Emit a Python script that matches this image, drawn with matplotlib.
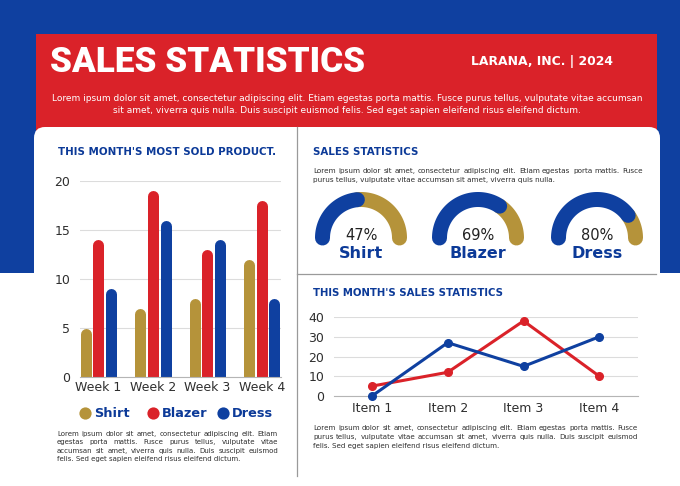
import matplotlib
matplotlib.use('Agg')
import matplotlib.pyplot as plt
import numpy as np
from matplotlib.patches import Rectangle, FancyBboxPatch

W, H = 680, 486
BLUE = '#0F40A0'
RED = '#DA2229'
GOLD = '#B5933A'
NAVY = '#0C3A98'
TXT = '#2E2E2E'
BODY = 'DejaVu Sans'
HEAD = 'DejaVu Sans'

# ---------------- data ----------------
weeks = ['Week 1', 'Week 2', 'Week 3', 'Week 4']
bar_series = ['Shirt', 'Blazer', 'Dress']
shirt = [5, 7, 8, 12]
blazer = [14, 19, 13, 18]
dress = [9, 16, 14, 8]
bar_yticks = [0, 5, 10, 15, 20]

gauge_labels = ['Shirt', 'Blazer', 'Dress']
gauge_pct = [47, 69, 80]

items = ['Item 1', 'Item 2', 'Item 3', 'Item 4']
line_red = [5, 12, 38, 10]
line_blue = [0, 27, 15, 30]
line_yticks = [0, 10, 20, 30, 40]

title = 'SALES STATISTICS'
company = 'LARANA, INC. | 2024'
header_lines = ['Lorem ipsum dolor sit amet, consectetur adipiscing elit. Etiam egestas porta mattis. Fusce purus tellus, vulputate vitae accumsan',
                'sit amet, viverra quis nulla. Duis suscipit euismod felis. Sed eget sapien eleifend risus eleifend dictum.']
left_title = "THIS MONTH'S MOST SOLD PRODUCT."
left_para = ['Lorem ipsum dolor sit amet, consectetur adipiscing elit. Etiam',
             'egestas porta mattis. Fusce purus tellus, vulputate vitae',
             'accumsan sit amet, viverra quis nulla. Duis suscipit euismod',
             'felis. Sed eget sapien eleifend risus eleifend dictum.']
gauge_title = 'SALES STATISTICS'
gauge_para = ['Lorem ipsum dolor sit amet, consectetur adipiscing elit. Etiam egestas porta mattis. Fusce',
              'purus tellus, vulputate vitae accumsan sit amet, viverra quis nulla.']
line_title = "THIS MONTH'S SALES STATISTICS"
line_para = ['Lorem ipsum dolor sit amet, consectetur adipiscing elit. Etiam egestas porta mattis. Fusce',
             'purus tellus, vulputate vitae accumsan sit amet, viverra quis nulla. Duis suscipit euismod',
             'felis. Sed eget sapien eleifend risus eleifend dictum.']

# ---------------- figure ----------------
fig = plt.figure(figsize=(6.8, 4.86), dpi=100)
bg = fig.add_axes([0, 0, 1, 1], zorder=0)
bg.set_xlim(0, W)
bg.set_ylim(H, 0)
bg.axis('off')
R = fig.canvas.get_renderer()


def px_axes(x0, y0, x1, y1):
    ax = fig.add_axes([x0 / W, 1 - y1 / H, (x1 - x0) / W, (y1 - y0) / H], zorder=2)
    ax.patch.set_visible(False)
    return ax


def fit_text(x, y, s, width, size, **kw):
    t = bg.text(x, y, s, fontsize=size, **kw)
    w = t.get_window_extent(R).width
    t.set_fontsize(size * width / w)
    return t


def justified(x0, x1, y, lines, lh, color=TXT):
    # font size so that the longest line fits the width naturally
    probe = [bg.text(0, 0, ln, fontsize=6, family=BODY) for ln in lines]
    wmax = max(p.get_window_extent(R).width for p in probe)
    for p in probe:
        p.remove()
    size = 6 * (x1 - x0) / wmax
    for i, line in enumerate(lines):
        yy = y + i * lh
        words = line.split()
        if i == len(lines) - 1:
            bg.text(x0, yy, line, fontsize=size, color=color, family=BODY, va='center')
            continue
        ts = [bg.text(0, yy, w, fontsize=size, color=color, family=BODY, va='center') for w in words]
        ws = [t.get_window_extent(R).width for t in ts]
        gap = (x1 - x0 - sum(ws)) / max(len(words) - 1, 1)
        xx = x0
        for t, w in zip(ts, ws):
            t.set_x(xx)
            xx += w + gap


# backgrounds
bg.add_patch(Rectangle((0, 0), W, 273, color=BLUE, lw=0))
bg.add_patch(Rectangle((36, 34), 621, 100, color=RED, lw=0))
bg.add_patch(FancyBboxPatch((34, 127), 626, 420, boxstyle='round,pad=0,rounding_size=11',
                            fc='white', ec='none'))
bg.plot([297, 297], [127, 476], color='#9A9A9A', lw=0.9)
bg.plot([297, 656], [273.5, 273.5], color='#9A9A9A', lw=0.9)

# header
fit_text(50, 63, title, 315, 26, color='white', family=['Roboto', 'DejaVu Sans'],
         weight='black', va='center')
fit_text(471, 62, company, 143, 10, color='white', family=HEAD, weight='bold', va='center')
for i, ln in enumerate(header_lines):
    t = bg.text(347, 98 + i * 12, ln, fontsize=6.5, color='white', family=BODY, ha='center', va='center')
    if i == 0:
        base_w = t.get_window_extent(R).width
        hs = 6.5 * 585 / base_w
    t.set_fontsize(hs)

# section titles
fit_text(58, 152, left_title, 217, 8, color=NAVY, family=HEAD, weight='bold', va='center')
fit_text(313, 152, gauge_title, 105, 8, color=NAVY, family=HEAD, weight='bold', va='center')
fit_text(313, 293, line_title, 190, 8, color=NAVY, family=HEAD, weight='bold', va='center')

# paragraphs
justified(57, 278, 434, left_para, 8.3)
justified(313, 643, 171, gauge_para, 8.8)
justified(313, 638, 428, line_para, 8.8)

# ---------------- bar chart ----------------
axb = px_axes(80, 181, 281, 377)
xg = np.arange(len(weeks))
off = 0.235
bar_px = 11.0
r_data = (bar_px / 2) / (196 / 20)
for k, (vals, col) in enumerate(zip([shirt, blazer, dress], [GOLD, RED, BLUE])):
    xs = xg + (k - 1) * off
    v = np.array(vals, dtype=float)
    lc = axb.vlines(xs, 0, v - r_data, colors=col, lw=bar_px * 0.72, zorder=3)
    lc.set_capstyle('round')
axb.set_xlim(-0.34, 3.355)
axb.set_ylim(0, 20)
axb.set_yticks(bar_yticks)
axb.set_xticks(xg)
axb.set_xticklabels(weeks)
axb.grid(axis='y', color='#DCDCDC', lw=0.8, zorder=0)
for s in ['left', 'top', 'right']:
    axb.spines[s].set_visible(False)
axb.spines['bottom'].set_color('#B5B5B5')
axb.spines['bottom'].set_zorder(4)
axb.tick_params(axis='y', length=0, pad=7, labelsize=9, labelcolor=TXT)
axb.tick_params(axis='x', length=0, pad=3, labelsize=9, labelcolor=TXT)
for t in axb.get_xticklabels() + axb.get_yticklabels():
    t.set_family(BODY)

# legend
leg_x = [85, 153, 223]
for name, col, lx in zip(bar_series, [GOLD, RED, BLUE], leg_x):
    bg.plot(lx, 413, 'o', ms=8.8, color=col, mec='none')
    bg.text(lx + 9, 413, name, fontsize=9.3, color=NAVY, weight='bold', family=HEAD, va='center')

# ---------------- gauges ----------------
g_cx = [361, 478, 597]
g_cy, g_r, g_lw = 238, 38.5, 10.8
for name, p, cx in zip(gauge_labels, gauge_pct, g_cx):
    split = np.pi * (1 - p / 100)
    th_g = np.linspace(split, 0, 100)
    th_b = np.linspace(np.pi, split, 100)
    bg.plot(cx + g_r * np.cos(th_g), g_cy - g_r * np.sin(th_g), color=GOLD, lw=g_lw,
            solid_capstyle='round', zorder=3)
    bg.plot(cx + g_r * np.cos(th_b), g_cy - g_r * np.sin(th_b), color=BLUE, lw=g_lw,
            solid_capstyle='round', zorder=4)
    bg.text(cx, 235, f'{p}%', fontsize=10.5, color='#222222', family=BODY, ha='center', va='center')
    bg.text(cx, 253, name, fontsize=11.5, color=NAVY, weight='bold', family=HEAD, ha='center', va='center')

# ---------------- line chart ----------------
axl = px_axes(334, 317, 638, 396)
xi = np.arange(len(items))
axl.plot(xi, line_red, color=RED, lw=2.2, marker='o', ms=5.5, clip_on=False, zorder=3)
axl.plot(xi, line_blue, color=BLUE, lw=2.2, marker='o', ms=5.5, clip_on=False, zorder=4)
axl.set_xlim(-0.5, 3.51)
axl.set_ylim(0, 40)
axl.set_yticks(line_yticks)
axl.set_xticks(xi)
axl.set_xticklabels(items)
axl.grid(axis='y', color='#DCDCDC', lw=0.8, zorder=0)
for s in ['left', 'top', 'right']:
    axl.spines[s].set_visible(False)
axl.spines['bottom'].set_color('#B5B5B5')
axl.tick_params(axis='y', length=0, pad=7, labelsize=9, labelcolor=TXT)
axl.tick_params(axis='x', length=0, pad=4, labelsize=9, labelcolor=TXT)
for t in axl.get_xticklabels() + axl.get_yticklabels():
    t.set_family(BODY)

fig.savefig('out.png', dpi=100)
